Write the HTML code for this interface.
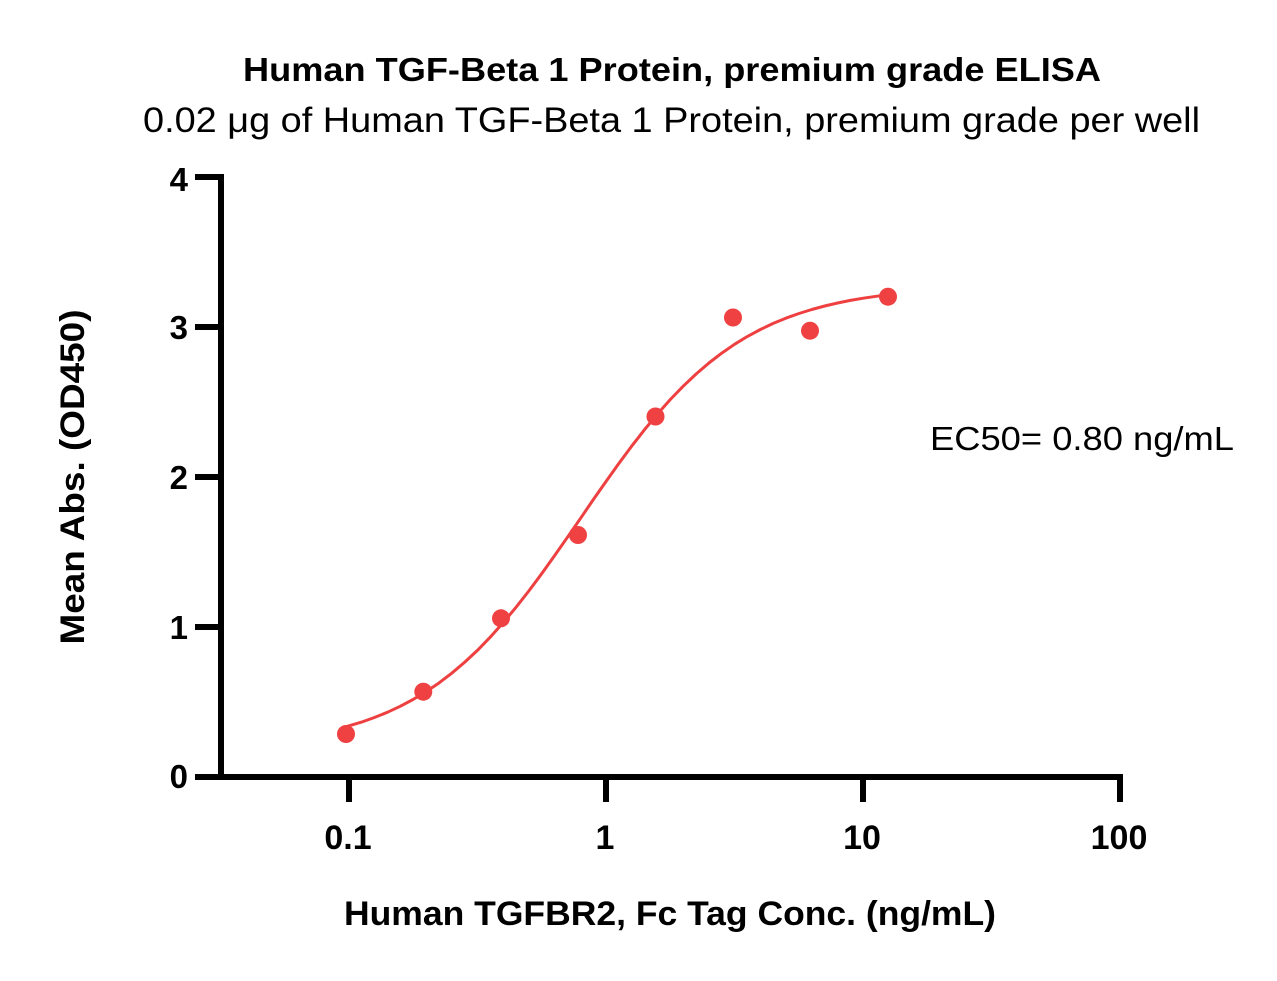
<!DOCTYPE html>
<html>
<head>
<meta charset="utf-8">
<style>
  html, body { margin: 0; padding: 0; background: #ffffff; }
  svg { display: block; }
  .b { font-family: "Liberation Sans", sans-serif; font-weight: bold; fill: #000; }
  .r { font-family: "Liberation Sans", sans-serif; font-weight: normal; fill: #000; }
</style>
</head>
<body>
<svg width="1277" height="981" viewBox="0 0 1277 981" xmlns="http://www.w3.org/2000/svg">
  <rect x="0" y="0" width="1277" height="981" fill="#ffffff"/>

  <!-- Titles -->
  <text class="b" x="243" y="81" font-size="33" textLength="858" lengthAdjust="spacingAndGlyphs">Human TGF-Beta 1 Protein, premium grade ELISA</text>
  <text class="r" x="143" y="132" font-size="35" textLength="1057" lengthAdjust="spacingAndGlyphs">0.02 μg of Human TGF-Beta 1 Protein, premium grade per well</text>

  <!-- Axes -->
  <g stroke="#000" stroke-width="6" fill="none" stroke-linecap="butt">
    <line x1="221" y1="174" x2="221" y2="780"/>
    <line x1="195" y1="777" x2="1123" y2="777"/>
    <!-- y ticks -->
    <line x1="195" y1="177" x2="221" y2="177"/>
    <line x1="195" y1="327" x2="221" y2="327"/>
    <line x1="195" y1="477" x2="221" y2="477"/>
    <line x1="195" y1="627" x2="221" y2="627"/>
    <!-- x ticks -->
    <line x1="349" y1="777" x2="349" y2="802"/>
    <line x1="606" y1="777" x2="606" y2="802"/>
    <line x1="863" y1="777" x2="863" y2="802"/>
    <line x1="1120" y1="777" x2="1120" y2="802"/>
  </g>

  <!-- Y tick labels -->
  <g class="b" font-size="33" text-anchor="end">
    <text x="188" y="191">4</text>
    <text x="188" y="339">3</text>
    <text x="188" y="489">2</text>
    <text x="188" y="639">1</text>
    <text x="188" y="788">0</text>
  </g>

  <!-- X tick labels -->
  <g class="b" font-size="34" text-anchor="middle">
    <text x="348" y="849">0.1</text>
    <text x="605" y="849">1</text>
    <text x="862" y="849">10</text>
    <text x="1119" y="849">100</text>
  </g>

  <!-- Axis titles -->
  <text class="b" x="344" y="925" font-size="34" textLength="652" lengthAdjust="spacingAndGlyphs">Human TGFBR2, Fc Tag Conc. (ng/mL)</text>
  <text class="b" font-size="34" text-anchor="middle" transform="translate(84,477) rotate(-90)" textLength="335" lengthAdjust="spacingAndGlyphs">Mean Abs. (OD450)</text>

  <!-- EC50 annotation -->
  <text class="r" x="930" y="450" font-size="33" textLength="304" lengthAdjust="spacingAndGlyphs">EC50= 0.80 ng/mL</text>

  <!-- Fitted curve -->
  <polyline fill="none" stroke="#ee4040" stroke-width="3" stroke-linejoin="round" stroke-linecap="round"
    points="346.1,726.7 361.6,722.1 374.4,717.5 387.3,712.3 400.2,706.3 413.0,699.5 425.9,691.8 438.8,683.1 451.6,673.3 464.5,662.4 477.4,650.4 490.2,637.2 503.1,622.8 515.9,607.4 528.8,591.0 541.7,573.7 554.5,555.8 567.4,537.3 580.3,518.7 593.1,499.9 606,481.5 618.9,463.4 631.7,446.1 644.6,429.6 657.5,414.0 670.3,399.5 683.2,386.2 696.1,374.0 708.9,363.0 721.8,353.1 734.7,344.2 747.5,336.4 760.4,329.5 773.2,323.4 786.1,318.1 799.0,313.5 811.8,309.5 824.7,306.0 837.6,303.0 850.4,300.4 863.3,298.2 876.2,296.3 888.3,294.7"/>

  <!-- Data points -->
  <g fill="#f04142">
    <circle cx="346" cy="734" r="9"/>
    <circle cx="423.3" cy="691.7" r="9"/>
    <circle cx="501" cy="618.3" r="9"/>
    <circle cx="578" cy="535" r="9"/>
    <circle cx="655.5" cy="416.5" r="9"/>
    <circle cx="733" cy="317.5" r="9"/>
    <circle cx="810" cy="330.7" r="9"/>
    <circle cx="888" cy="296.7" r="9"/>
  </g>
</svg>
</body>
</html>
